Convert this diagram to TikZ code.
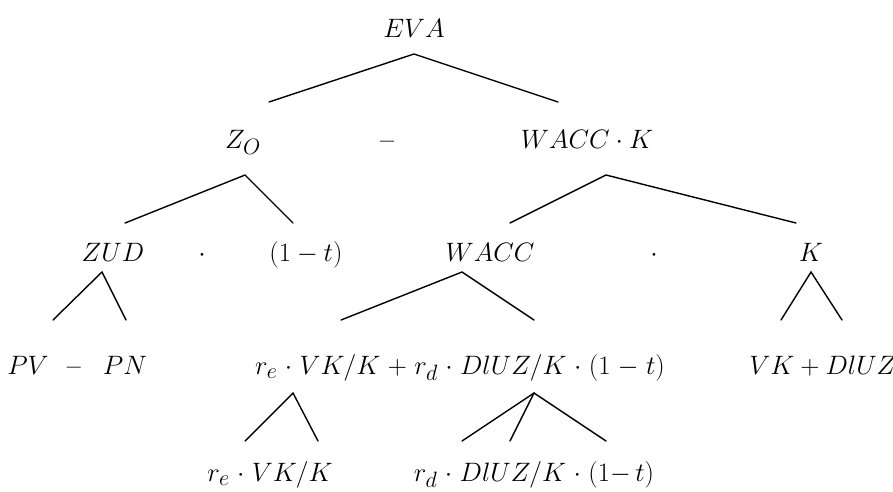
\documentclass[tikz,border=0pt]{standalone}
\newcommand\mysc[1]{\scalebox{1.07}{#1}}
\begin{document}
\begin{tikzpicture}[x=1pt,y=-1pt,
  lbl/.style={anchor=base,inner sep=0pt,font=\Huge},
  dsh/.style={anchor=base,inner sep=0pt,font=\Huge\bfseries},
  br/.style={line width=1.4pt,line cap=round}]
\useasboundingbox (0,0) rectangle (893,491);
% row 1
\node[lbl] (eva) at (414,37) {\mysc{$EVA$}};
% row 2
\node[lbl] (z0) at (243,148) {\mysc{$Z_O$}};
\node[dsh] (m1) at (387,148) {--};
\node[lbl] (wk) at (587,148) {\mysc{$WACC\cdot K$}};
% row 3
\node[lbl] (zud) at (113,261) {\mysc{$ZUD$}};
\node[lbl] (d1) at (202,261) {\mysc{$\cdot$}};
\node[lbl] (ot) at (306,261) {\mysc{$(1-t)$}};
\node[lbl] (wacc) at (490,261) {\mysc{$WACC$}};
\node[lbl] (d2) at (654,261) {\mysc{$\cdot$}};
\node[lbl] (k) at (811,261) {\mysc{$K$}};
% row 4
\node[lbl] (pv) at (28,374) {\mysc{$PV$}};
\node[dsh] (m2) at (74,374) {--};
\node[lbl] (pn) at (125,374) {\mysc{$PN$}};
\node[lbl] (long) at (460,374) {\mysc{\medmuskip=5mu$r_e\cdot VK/K+r_d\cdot DlUZ/K\cdot(1-t)$}};
\node[lbl] (vkd) at (823,374) {\mysc{$VK+DlUZ$}};
% row 5
\node[lbl] (re) at (270,481) {\mysc{\medmuskip=5mu$r_e\cdot VK/K$}};
\node[lbl] (rd) at (534,481) {\mysc{\medmuskip=5mu$r_d\cdot DlUZ/K\cdot(1{-}\,t)$}};
% connector coordinates
\coordinate (a1) at (414,54);  \coordinate (a1l) at (269,102); \coordinate (a1r) at (558,102);
\coordinate (a2) at (245,175); \coordinate (a2l) at (125,223); \coordinate (a2r) at (293,223);
\coordinate (a3) at (606,175); \coordinate (a3l) at (510,223); \coordinate (a3r) at (796,223);
\coordinate (a4) at (102,272); \coordinate (a4l) at (53,320);  \coordinate (a4r) at (126,320);
\coordinate (a5) at (462,272); \coordinate (a5l) at (341,320); \coordinate (a5r) at (534,320);
\coordinate (a6) at (811,272); \coordinate (a6l) at (781,320); \coordinate (a6r) at (842,320);
\coordinate (a7) at (293,393); \coordinate (a7l) at (245,441); \coordinate (a7r) at (318,441);
\coordinate (a8) at (534,393); \coordinate (a8l) at (462,441); \coordinate (a8m) at (510,441); \coordinate (a8r) at (606,441);
\draw[br] (a1l) -- (a1) -- (a1r);
\draw[br] (a2l) -- (a2) -- (a2r);
\draw[br] (a3l) -- (a3) -- (a3r);
\draw[br] (a4l) -- (a4) -- (a4r);
\draw[br] (a5l) -- (a5) -- (a5r);
\draw[br] (a6l) -- (a6) -- (a6r);
\draw[br] (a7l) -- (a7) -- (a7r);
\draw[br] (a8l) -- (a8) -- (a8r);
\draw[br] (a8) -- (a8m);
\end{tikzpicture}
\end{document}
